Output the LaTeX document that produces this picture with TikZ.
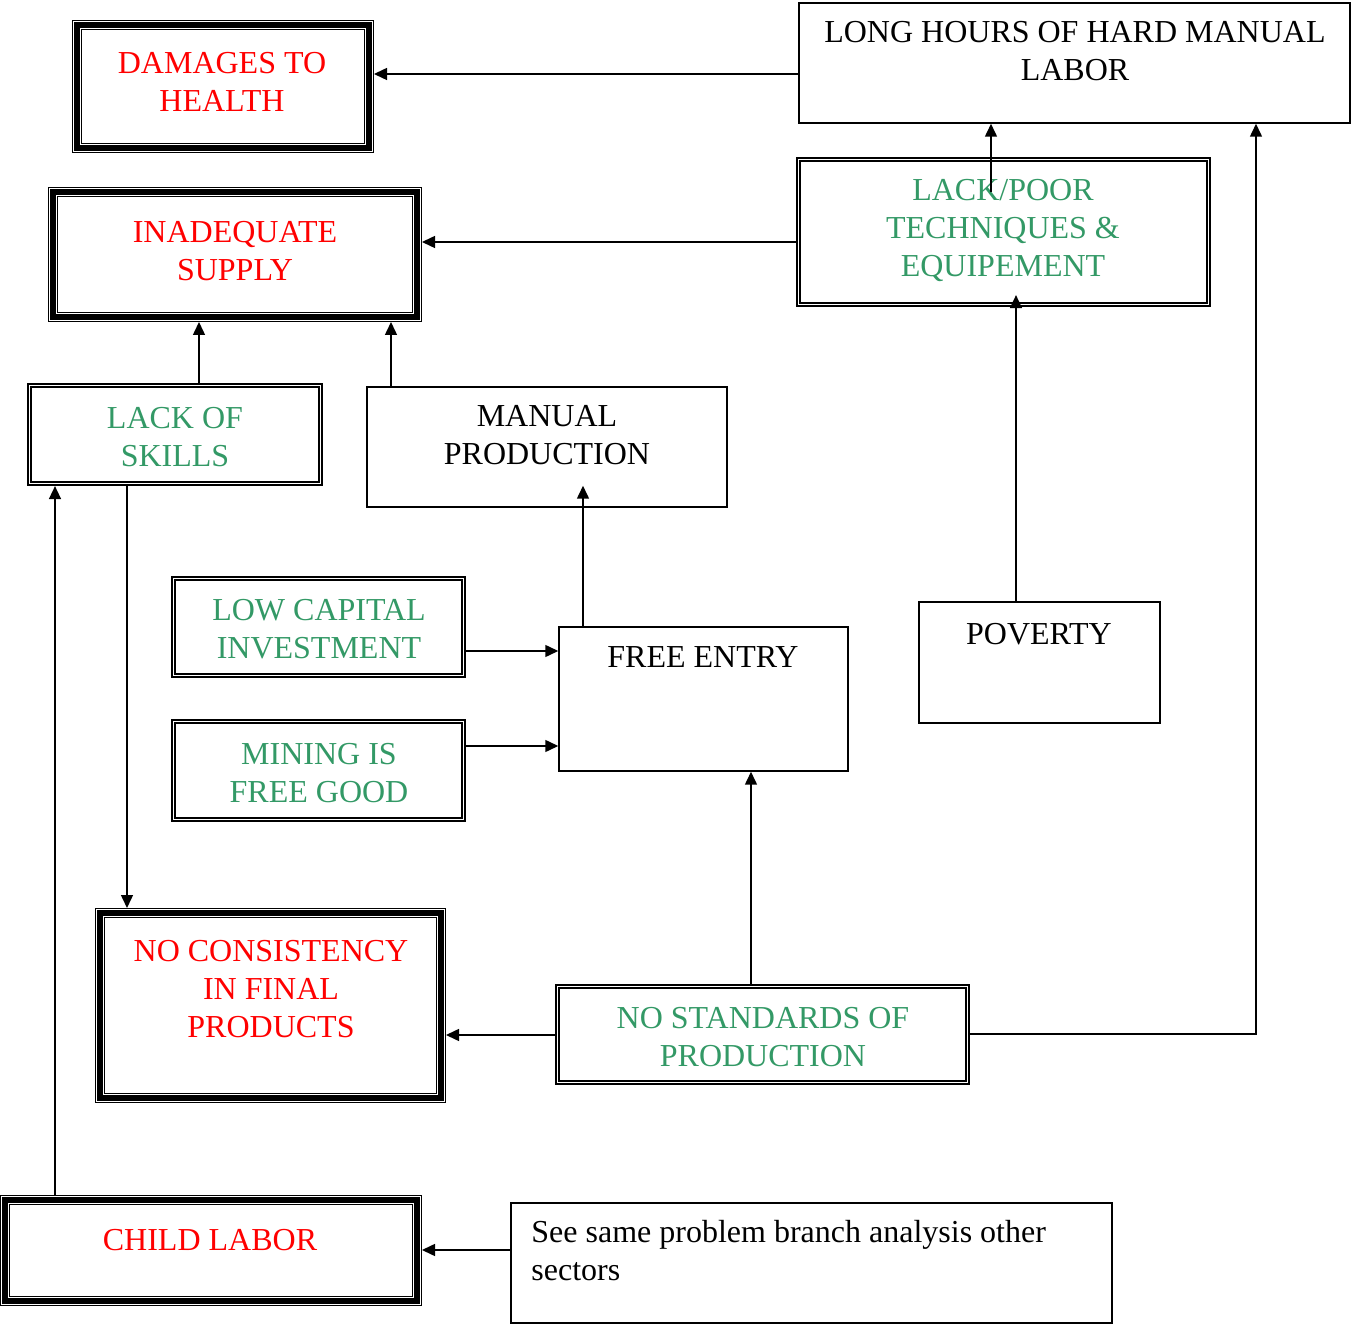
\documentclass[tikz,border=0pt]{standalone}
\usepackage{fontspec}
\setmainfont{Liberation Serif}
\usetikzlibrary{arrows.meta,calc}
\definecolor{effred}{RGB}{255,0,0}
\definecolor{causegreen}{RGB}{51,153,102}
\begin{document}
\begin{tikzpicture}[x=0.5pt,y=-0.5pt,
  % thin-thick-thin frame for the problem boxes
  tribox/.style={rectangle, inner sep=0pt, outer sep=2.5pt, line width=2.6pt, draw=black,
    preaction={draw=black, line width=5pt},
    preaction={draw=white, line width=4.2pt}},
  % double frame for the cause boxes
  dblbox/.style={rectangle, inner sep=0pt, outer sep=1.3pt, draw=black,
    line width=0.9pt, double=white, double distance=0.8pt},
  % plain frame
  onebox/.style={rectangle, inner sep=0pt, draw=black, line width=0.75pt},
  txt/.style={inner sep=0pt, align=center, font=\fontsize{16}{19}\selectfont},
  redtxt/.style={txt, text=effred},
  greentxt/.style={txt, text=causegreen},
  blacktxt/.style={txt, text=black},
  link/.style={draw=black, line width=0.75pt, -{Triangle[length=6.5pt,width=6pt]}}
]
\useasboundingbox (0,0) rectangle (1351,1326);

% ---- frames ----
\node[tribox, minimum width=146pt, minimum height=61.5pt] (dmg) at (223,86.5) {};
\node[tribox, minimum width=182pt, minimum height=62.5pt] (inad) at (235,254.5) {};
\node[tribox, minimum width=170.5pt, minimum height=92.5pt] (nocons) at (270.5,1005.5) {};
\node[tribox, minimum width=206pt, minimum height=50.5pt] (child) at (211,1250.5) {};

\node[dblbox, minimum width=205pt, minimum height=72.5pt] (lackpoor) at (1003.5,232) {};
\node[dblbox, minimum width=145.5pt, minimum height=49pt] (skills) at (175,434.5) {};
\node[dblbox, minimum width=145pt, minimum height=48.5pt] (lowcap) at (318.5,627) {};
\node[dblbox, minimum width=145pt, minimum height=49pt] (mining) at (318.5,770.5) {};
\node[dblbox, minimum width=205pt, minimum height=48pt] (nostd) at (762.5,1034.5) {};

\node[onebox, minimum width=275.5pt, minimum height=60pt] (long) at (1074.5,63) {};
\node[onebox, minimum width=180pt, minimum height=60pt] (manual) at (547,447) {};
\node[onebox, minimum width=144.5pt, minimum height=72pt] (free) at (703.5,699) {};
\node[onebox, minimum width=120.5pt, minimum height=60.5pt] (poverty) at (1039.5,662.5) {};
\node[onebox, minimum width=300.5pt, minimum height=60pt] (seesame) at (811.5,1263) {};

% ---- texts ----
\node[redtxt] (dmg-t) at (222,81.5) {DAMAGES TO\\HEALTH};
\node[redtxt] (inad-t) at (235,251) {INADEQUATE\\SUPPLY};
\node[redtxt] (nocons-t) at (271,989) {NO CONSISTENCY\\IN FINAL\\PRODUCTS};
\node[redtxt] (child-t) at (210,1240) {CHILD LABOR};

\node[greentxt] (lackpoor-t) at (1003,231) {LACK/POOR\\TECHNIQUES \&\\EQUIPEMENT};
\node[greentxt] (skills-t) at (175,437.5) {LACK OF\\SKILLS};
\node[greentxt] (lowcap-t) at (319,629.5) {LOW CAPITAL\\INVESTMENT};
\node[greentxt] (mining-t) at (319,773.5) {MINING IS\\FREE GOOD};
\node[greentxt] (nostd-t) at (763,1037.5) {NO STANDARDS OF\\PRODUCTION};

\node[blacktxt] (long-t) at (1075,51.5) {LONG HOURS OF HARD MANUAL\\LABOR};
\node[blacktxt] (manual-t) at (547,435.5) {MANUAL\\PRODUCTION};
\node[blacktxt] (free-t) at (703,657) {FREE ENTRY};
\node[blacktxt] (poverty-t) at (1039,634) {POVERTY};
\node[blacktxt, align=left, anchor=west] (seesame-t) at (531,1251) {See same problem branch analysis other\\sectors};

% ---- connectors ----
\draw[link] (long.west |- 0,74) -- (dmg.east |- 0,74);
\draw[link] ($(lackpoor.north)+(-12.5,35.5)$) -- (long.south -| 991,0);
\draw[link] (lackpoor.west |- 0,242) -- (inad.east |- 0,242);
\draw[link] (poverty.north -| 1016,0) -- ($(lackpoor.south -| 1016,0)+(0,-12)$);
\draw[link] (skills.north -| 199,0) -- (inad.south -| 199,0);
\draw[link] (manual.north -| 391,0) -- (inad.south -| 391,0);
\draw[link] (skills.south -| 127,0) -- (nocons.north -| 127,0);
\draw[link] (child.north -| 55,0) -- (skills.south -| 55,0);
\draw[link] (lowcap.east |- 0,651) -- (free.west |- 0,651);
\draw[link] (mining.east |- 0,746) -- (free.west |- 0,746);
\draw[link] (free.north -| 583,0) -- ($(manual.south -| 583,0)+(0,-22)$);
\draw[link] (nostd.north -| 751,0) -- (free.south -| 751,0);
\draw[link] (nostd.west |- 0,1035) -- (nocons.east |- 0,1035);
\draw[link] (nostd.east |- 0,1034) -| (long.south -| 1256,0);
\draw[link] (seesame.west |- 0,1250) -- (child.east |- 0,1250);
\end{tikzpicture}
\end{document}
